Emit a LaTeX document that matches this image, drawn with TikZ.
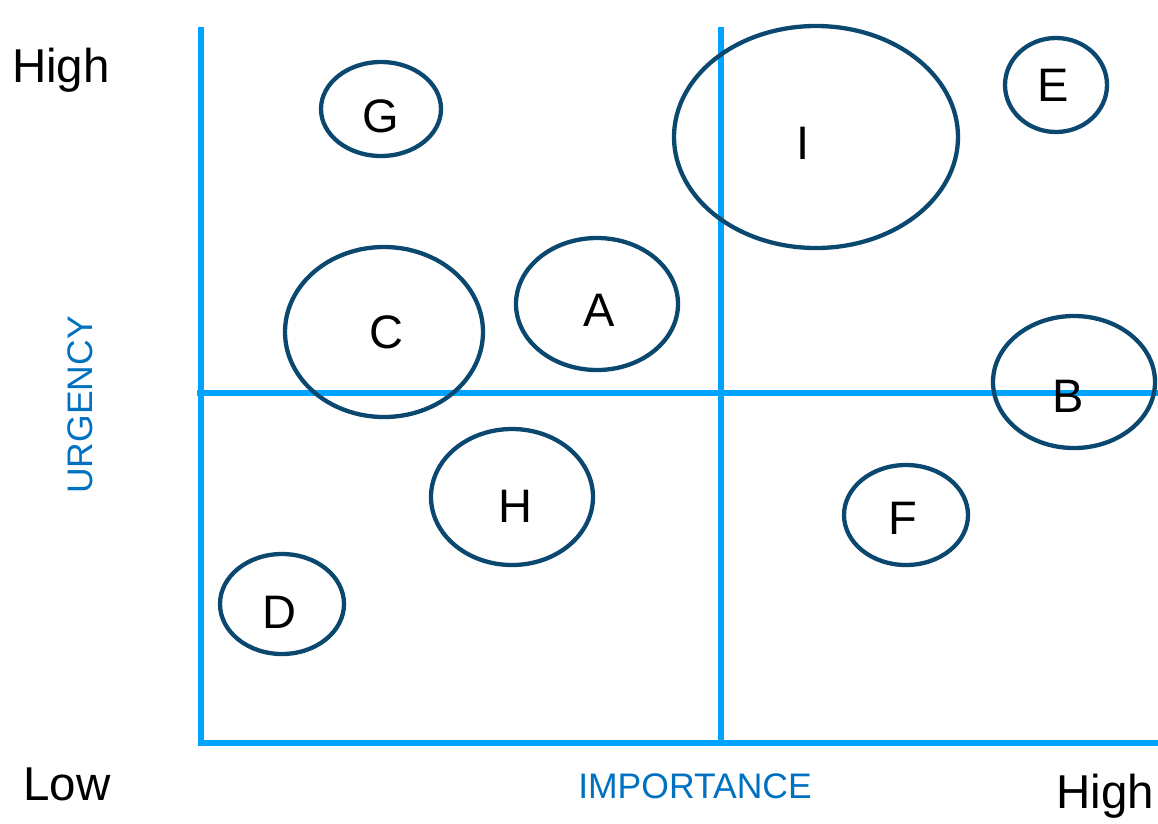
\documentclass[tikz,border=0pt]{standalone}
\usepackage{fontspec}
\setmainfont{Liberation Sans}
\definecolor{axisblue}{HTML}{00A4FF}
\definecolor{ringblue}{HTML}{0B4870}
\definecolor{labelblue}{HTML}{0070C0}
\tikzset{
  axisline/.style={draw=axisblue, line width=5.5pt},
  bubble/.style={draw=ringblue, line width=4.3pt},
  letter/.style={font=\fontsize{47}{52}\selectfont, inner sep=0pt},
  bigtext/.style={font=\fontsize{47.5}{52}\selectfont, inner sep=0pt},
  axistext/.style={font=\fontsize{35.5}{40}\selectfont, text=labelblue, inner sep=0pt}
}
\begin{document}
\begin{tikzpicture}[x=1pt,y=-1pt]
\useasboundingbox (0,0) rectangle (1158,823);
% axes
\coordinate (ytop) at (201,27);
\coordinate (origin) at (201,743);
\coordinate (xend) at (1158,743);
\coordinate (mtop) at (721,27);
\coordinate (mbot) at (721,743);
\coordinate (hl) at (197,393);
\coordinate (hr) at (1158,393);
\draw[axisline] (ytop) -- (origin) -- (xend);
\draw[axisline] (mtop) -- (mbot);
\draw[axisline] (hl) -- (hr);
% bubbles
\draw[bubble] (381,109) ellipse [x radius=60, y radius=47];
\draw[bubble] (816,137) ellipse [x radius=142, y radius=111];
\draw[bubble] (1056,85) ellipse [x radius=51, y radius=47];
\draw[bubble] (384,332) ellipse [x radius=99, y radius=85];
\draw[bubble] (597,304) ellipse [x radius=81, y radius=66];
\draw[bubble] (1074,382) ellipse [x radius=81, y radius=66];
\draw[bubble] (512,497) ellipse [x radius=81, y radius=68];
\draw[bubble] (906,515) ellipse [x radius=62, y radius=50];
\draw[bubble] (282,604) ellipse [x radius=62, y radius=50];
% letters
\node[letter] (lG) at (381,116) {G};
\node[letter] (lI) at (803,143) {I};
\node[letter] (lE) at (1053,85) {E};
\node[letter] (lC) at (386,332) {C};
\node[letter] (lA) at (599,310) {A};
\node[letter] (lB) at (1068,396) {B};
\node[letter] (lH) at (515,506) {H};
\node[letter] (lF) at (903,518) {F};
\node[letter] (lD) at (279,612) {D};
% axis texts
\node[bigtext] (hightop) at (61,70) {High};
\node[bigtext] (low) at (67,784) {Low};
\node[bigtext] (highbot) at (1105,796) {High};
\node[axistext] (imp) at (695,786) {IMPORTANCE};
\node[axistext, rotate=90] (urg) at (80,405) {URGENCY};
\end{tikzpicture}
\end{document}
